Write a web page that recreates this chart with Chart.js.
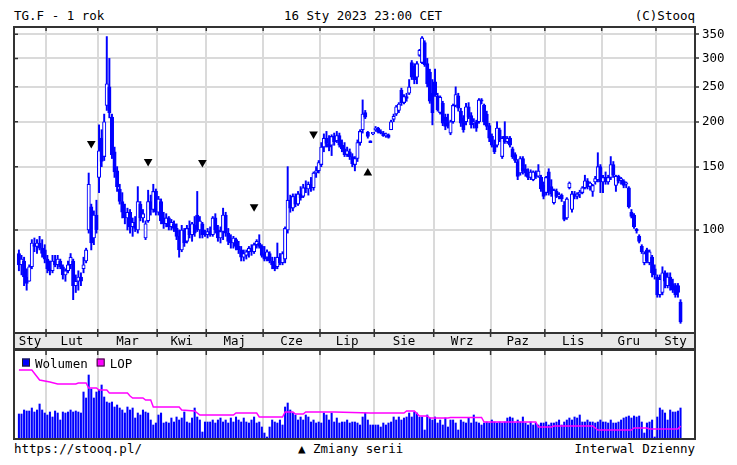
<!DOCTYPE html>
<html>
<head>
<meta charset="utf-8">
<script src="https://cdn.jsdelivr.net/npm/chart.js@4.4.1/dist/chart.umd.min.js"></script>
<style>
  body { margin: 0; background: #fff; }
  #wrap { position: relative; width: 737px; height: 465px; font-family: "DejaVu Sans Mono", monospace; font-size: 12.5px; color: #000; }
  .txt { position: absolute; white-space: pre; line-height: 14px; }
  canvas { position: absolute; left: 0; }
</style>
</head>
<body>
<div id="wrap">
  <div class="txt" style="left:14px; top:9px">TG.F - 1 rok</div>
  <div class="txt" style="left:284px; top:9px">16 Sty 2023 23:00 CET</div>
  <div class="txt" style="right:42px; top:9px">(C)Stooq</div>
  <canvas id="price" width="737" height="349" style="top:0"></canvas>
  <canvas id="vol" width="737" height="91" style="top:349px"></canvas>
  <div class="txt" style="left:14px; top:442px">https://stooq.pl/</div>
  <div class="txt" style="left:298px; top:442px">▲ Zmiany serii</div>
  <div class="txt" style="right:42px; top:442px">Interwal Dzienny</div>
</div>
<script>
// trading days: 17 Jan 2022 .. 16 Jan 2023, one entry per session
var monthLabels = ['Sty', 'Lut', 'Mar', 'Kwi', 'Maj', 'Cze', 'Lip', 'Sie', 'Wrz', 'Paz', 'Lis', 'Gru', 'Sty'];
var monthStarts = [11, 31, 54, 73, 95, 117, 138, 161, 183, 204, 226, 247]; // index of first session of Lut..Sty
var yTicks = [100, 150, 200, 250, 300, 350];

var open = [
  86,80,82,74,72,79,91,90,92,89,88,
  83,78,77,82,80,82,79,75,77,80,82,70,72,74,78,82,100,116,95,110,
  140,180,160,222,250,206,165,146,130,120,112,108,112,102,105,100,118,108,95,106,120,114,128,
  112,120,108,104,108,102,104,101,96,88,100,93,101,97,103,110,100,104,98,
  97,99,97,108,100,95,99,110,98,94,92,94,90,88,84,85,87,89,87,91,92,90,
  86,84,86,82,80,79,84,81,83,100,121,115,123,118,126,124,131,130,134,131,144,146,
  152,170,180,174,172,182,177,183,172,168,162,165,160,152,158,175,190,212,187,177,185,
  190,192,187,186,183,184,190,203,210,215,245,226,235,240,292,285,266,306,292,332,290,275,240,
  258,236,212,225,206,200,186,200,222,236,214,205,200,220,208,198,200,200,230,222,210,195,
  182,172,172,190,160,182,176,180,168,162,155,144,158,148,144,140,138,144,141,140,133,
  127,145,132,119,128,124,125,117,108,131,114,126,124,126,127,131,137,132,128,136,138,150,
  136,140,136,140,152,133,141,137,137,134,131,112,110,100,96,90,81,88,81,84,78,
  74,66,67,76,70,74,71,70,70,63
];
var high = [
  88,85,84,78,80,94,95,94,96,94,91,
  85,82,85,85,85,83,80,78,82,86,83,75,77,76,84,89,144,118,113,121,
  196,190,210,345,300,210,170,150,134,127,118,115,114,108,109,132,120,114,106,129,125,134,130,
  124,122,112,111,109,107,106,104,100,103,101,103,106,105,109,128,109,105,100,
  101,102,109,111,103,102,115,112,101,97,96,95,93,90,88,88,90,91,92,94,97,91,
  90,88,87,84,84,92,86,87,102,150,125,126,126,128,132,134,137,136,140,145,150,156,
  175,185,188,183,184,186,188,186,178,175,170,168,163,160,178,190,230,215,188,177,186,
  194,193,190,188,186,185,202,210,222,226,248,238,240,262,296,290,294,318,345,336,300,280,262,
  280,240,236,228,210,210,202,224,250,240,218,208,225,226,212,204,202,232,232,224,214,198,
  185,178,200,192,182,200,182,182,170,164,157,160,160,152,148,147,146,146,152,142,136,
  141,148,138,130,130,127,126,120,123,136,128,128,127,129,132,142,139,136,134,141,164,152,
  142,145,142,160,155,142,142,140,138,136,132,114,111,101,97,91,87,89,88,85,80,
  75,75,79,77,76,76,73,71,71,64
];
var low = [
  77,75,70,68,72,78,87,86,88,84,81,
  76,75,76,79,78,78,73,72,76,78,64,67,68,70,76,81,98,88,91,98,
  127,150,156,215,205,158,140,128,118,108,104,100,98,96,99,98,106,105,94,105,110,112,110,
  110,104,101,102,100,100,99,94,84,87,90,92,95,93,96,99,95,95,96,
  95,96,96,98,93,92,94,96,91,89,89,88,86,82,82,83,84,85,86,89,89,84,
  82,82,81,78,77,78,80,80,81,98,112,113,116,117,121,123,127,125,128,129,140,144,
  150,165,170,166,161,172,175,170,165,160,160,157,150,146,155,172,186,204,180,175,184,
  188,186,185,182,181,180,190,200,208,212,222,224,228,238,262,255,255,304,290,285,250,225,196,
  235,214,210,195,190,192,184,198,220,214,194,187,196,204,192,192,188,198,224,196,190,176,
  170,163,170,176,158,174,174,170,158,154,138,142,143,141,138,138,137,139,140,128,122,
  125,125,124,118,123,122,120,106,107,130,112,122,122,123,126,130,130,129,124,134,136,127,
  127,134,134,138,140,128,135,134,131,131,115,108,101,98,92,86,80,81,80,74,73,
  65,65,66,69,69,68,67,65,65,55
];
var close = [
  80,83,74,71,79,92,90,92,89,86,83,
  78,77,82,80,83,79,75,77,80,84,70,72,74,72,80,88,134,92,110,100,
  166,155,200,255,212,162,145,132,120,112,108,112,102,105,101,120,108,111,104,120,114,128,112,
  122,106,104,108,102,105,101,96,88,100,92,101,97,104,98,100,106,97,97,
  99,97,108,100,95,99,110,98,93,92,95,90,88,84,86,87,89,87,91,93,90,85,
  83,87,82,80,78,84,81,86,101,121,115,124,118,126,123,131,130,134,131,144,146,154,
  170,180,174,170,182,176,183,172,168,162,166,160,153,158,175,188,210,206,182,175,185,
  192,187,186,183,184,181,200,207,220,224,226,235,232,250,266,262,290,316,342,288,255,228,212,
  238,216,234,198,194,195,200,222,238,218,198,190,220,206,196,200,192,230,228,200,194,180,
  172,165,192,178,180,176,180,172,160,156,141,158,146,144,140,145,145,141,146,130,124,
  140,128,126,129,124,125,122,107,122,135,126,124,126,127,131,137,132,135,133,139,150,136,
  140,136,140,152,142,141,137,139,133,135,116,109,102,99.5,93,87,86,82,87,76,75,
  66,73,76,72,74,70,68,66,67,55.5
];
var volume = [
  25,25,29,28,28,31,27,29,35,29,26,
  24,27,22,28,26,19,27,26,27,29,27,28,27,26,47,41,64,50,41,47,
  49,54,42,37,36,37,32,34,31,29,26,32,29,31,21,26,24,29,27,26,19,14,16,
  24,26,16,17,16,21,17,22,19,21,27,17,16,21,31,22,19,7,17,
  17,17,19,16,19,21,17,19,16,21,17,22,19,17,21,17,16,19,22,16,17,12,
  6,2,12,19,17,16,19,14,32,36,29,26,24,19,22,19,24,22,17,19,16,17,
  16,26,24,19,26,17,21,16,17,17,19,16,17,17,16,14,22,26,19,14,14,
  14,14,12,16,14,16,17,22,19,22,19,21,22,26,22,27,26,22,22,9,24,21,19,
  22,16,19,14,21,12,19,19,16,9,19,17,16,21,16,24,17,16,14,16,17,16,
  19,17,16,17,16,17,21,22,21,16,19,17,22,16,14,17,14,16,14,16,16,
  17,14,16,16,17,19,14,17,19,21,19,22,21,24,17,17,19,17,17,16,17,19,
  17,17,16,19,16,16,17,19,21,22,23,21,23,22,23,17,6,16,17,19,2,
  22,31,29,26,19,29,27,27,28,31
];
// open interest (LOP), read at the points where the line changes
var lopDays = [0, 5, 8, 12, 15, 22, 23, 26, 27, 30, 31, 34, 35, 42, 43, 44, 48, 49, 51, 52, 62, 63, 68, 70, 83, 84, 92, 93, 102, 103, 106, 107, 110, 111, 122, 136, 149, 150, 153, 155, 158, 159, 166, 167, 179, 180, 200, 201, 206, 207, 222, 224, 237, 238, 243, 244, 255, 256];
var lopValues = [69, 69, 59, 57, 55, 55, 56, 56, 51, 51, 49, 49, 46, 46, 43, 41, 41, 39, 39, 32, 32, 29, 28, 24, 24, 26, 26, 22, 22, 27, 27, 25, 25, 27, 27, 26, 26, 28, 28, 23, 23, 21, 21, 21.5, 21.5, 17, 17, 12, 12, 13, 13, 9, 9, 11, 11, 10, 10, 13];
// contract roll markers
var rollDays = [28, 50, 71, 91, 114, 135];
var rollValues = [174, 155, 154, 116, 185, 144];
var rollDown = [true, true, true, true, true, false];

var xMin = -1.9, xMax = 261.6;
var bounds = monthStarts.map(function (s) { return s - 0.5; });
var edges = [xMin].concat(bounds, [xMax]);
var centers = monthLabels.map(function (_, k) { return (edges[k] + edges[k + 1]) / 2; });

var mono = { family: '"DejaVu Sans Mono", monospace', size: 12.5 };
var blue = '#0000ff';
var gridGray = '#dadada';
var frameColor = '#333333';

var idx = close.map(function (_, i) { return i; });
var wicks = idx.map(function (i) { return { x: i, y: [low[i], high[i]] }; });
var bodies = idx.map(function (i) { return { x: i, y: [open[i], close[i]] }; });
var bodyFill = idx.map(function (i) { return close[i] >= open[i] ? '#ffffff' : blue; });
var rolls = rollDays.map(function (d, k) { return { x: d, y: rollValues[k] }; });

function isBound(v) { return bounds.indexOf(v) >= 0; }

var framePlugin = {
  id: 'frame',
  afterDraw: function (chart) {
    var ctx = chart.ctx, a = chart.chartArea, x = chart.scales.x, y = chart.scales.y;
    ctx.save();
    ctx.strokeStyle = frameColor;
    ctx.lineWidth = 2;
    ctx.strokeRect(a.left, a.top, a.right - a.left, x.bottom - a.top);
    ctx.beginPath();
    ctx.moveTo(a.left, a.bottom); ctx.lineTo(a.right, a.bottom);
    ctx.stroke();
    ctx.lineWidth = 1.5;
    ctx.beginPath();
    bounds.forEach(function (b) {
      var px = x.getPixelForValue(b);
      ctx.moveTo(px, a.top); ctx.lineTo(px, a.top + 4);
      ctx.moveTo(px, a.bottom - 4); ctx.lineTo(px, a.bottom + 4);
    });
    yTicks.forEach(function (v) {
      var py = y.getPixelForValue(v);
      ctx.moveTo(a.left, py); ctx.lineTo(a.left + 4, py);
    });
    ctx.stroke();
    ctx.restore();
  }
};

new Chart(document.getElementById('price'), {
  type: 'bar',
  data: {
    datasets: [
      {
        type: 'scatter', data: rolls, order: 0,
        pointStyle: 'triangle', pointRadius: 5,
        rotation: rollDown.map(function (d) { return d ? 180 : 0; }),
        backgroundColor: '#000', borderWidth: 0
      },
      {
        data: bodies, order: 1, grouped: false, barThickness: 3.4, minBarLength: 1.5,
        backgroundColor: bodyFill, borderColor: blue, borderWidth: 1.1, borderSkipped: false
      },
      {
        data: wicks, order: 2, grouped: false, barThickness: 1.3,
        backgroundColor: blue, borderWidth: 0
      }
    ]
  },
  options: {
    responsive: false, animation: false, devicePixelRatio: 1, events: [],
    layout: { padding: { left: 14, top: 27, right: 0, bottom: 0 } },
    plugins: { legend: { display: false }, tooltip: { enabled: false } },
    scales: {
      x: {
        type: 'linear', min: xMin, max: xMax, offset: false,
        backgroundColor: '#e9e9e9',
        afterBuildTicks: function (s) {
          s.ticks = bounds.concat(centers).sort(function (p, q) { return p - q; }).map(function (v) { return { value: v }; });
        },
        afterFit: function (s) { s.height = 16; },
        ticks: {
          autoSkip: false, maxRotation: 0, padding: 1, color: '#000', font: mono,
          callback: function (v) { var k = centers.indexOf(v); return k >= 0 ? monthLabels[k] : ''; }
        },
        grid: {
          offset: false, drawTicks: false, lineWidth: 2,
          color: function (c) { return c.tick && isBound(c.tick.value) ? gridGray : 'rgba(0,0,0,0)'; }
        },
        border: { display: false }
      },
      y: {
        type: 'logarithmic', position: 'right', min: 51.7, max: 366.8,
        afterBuildTicks: function (s) { s.ticks = yTicks.map(function (v) { return { value: v }; }); },
        afterFit: function (s) { s.width = 42; },
        ticks: { color: '#000', font: mono, padding: 3, callback: function (v) { return String(v); } },
        grid: { color: gridGray, lineWidth: 2, tickColor: frameColor, tickLength: 4, tickWidth: 1.5 },
        border: { display: false }
      }
    }
  },
  plugins: [framePlugin]
});

var volFrame = {
  id: 'volFrame',
  afterDraw: function (chart) {
    var ctx = chart.ctx, a = chart.chartArea, x = chart.scales.x;
    ctx.save();
    ctx.strokeStyle = frameColor;
    ctx.lineWidth = 2;
    ctx.strokeRect(a.left, a.top, a.right - a.left, a.bottom - a.top);
    ctx.lineWidth = 1.5;
    ctx.beginPath();
    bounds.forEach(function (b) {
      var px = x.getPixelForValue(b);
      ctx.moveTo(px, a.top); ctx.lineTo(px, a.top + 5);
    });
    ctx.stroke();
    // legend
    ctx.font = '12.5px "DejaVu Sans Mono", monospace';
    ctx.textBaseline = 'alphabetic';
    var px = a.left + 8;
    chart.data.datasets.forEach(function (ds) {
      ctx.fillStyle = ds.legendColor;
      ctx.fillRect(px, 9.5, 8, 8);
      ctx.strokeStyle = '#222';
      ctx.lineWidth = 1;
      ctx.strokeRect(px + 0.5, 10, 7, 7);
      ctx.fillStyle = '#000';
      ctx.fillText(ds.label, px + 13, 18.5);
      px += 13 + ctx.measureText(ds.label).width + 9;
    });
    ctx.restore();
  }
};

new Chart(document.getElementById('vol'), {
  type: 'bar',
  data: {
    datasets: [
      {
        label: 'Wolumen', legendColor: blue, order: 1,
        data: idx.map(function (i) { return { x: i, y: volume[i] }; }),
        backgroundColor: blue, barThickness: 1.4
      },
      {
        type: 'line', label: 'LOP', legendColor: '#ff00ff', order: 0,
        data: lopDays.map(function (d, k) { return { x: d, y: lopValues[k] }; }),
        borderColor: '#ff00ff', borderWidth: 1.5, pointRadius: 0, tension: 0
      }
    ]
  },
  options: {
    responsive: false, animation: false, devicePixelRatio: 1, events: [],
    layout: { padding: { left: 14, right: 42, top: 1, bottom: 1 } },
    plugins: { legend: { display: false }, tooltip: { enabled: false } },
    scales: {
      x: {
        type: 'linear', min: xMin, max: xMax, offset: false,
        afterBuildTicks: function (s) { s.ticks = bounds.map(function (v) { return { value: v }; }); },
        afterFit: function (s) { s.height = 0; },
        ticks: { display: false },
        grid: { offset: false, drawTicks: false, lineWidth: 2, color: gridGray },
        border: { display: false }
      },
      y: { display: false, min: 0, max: 89 }
    }
  },
  plugins: [volFrame]
});
</script>
</body>
</html>
